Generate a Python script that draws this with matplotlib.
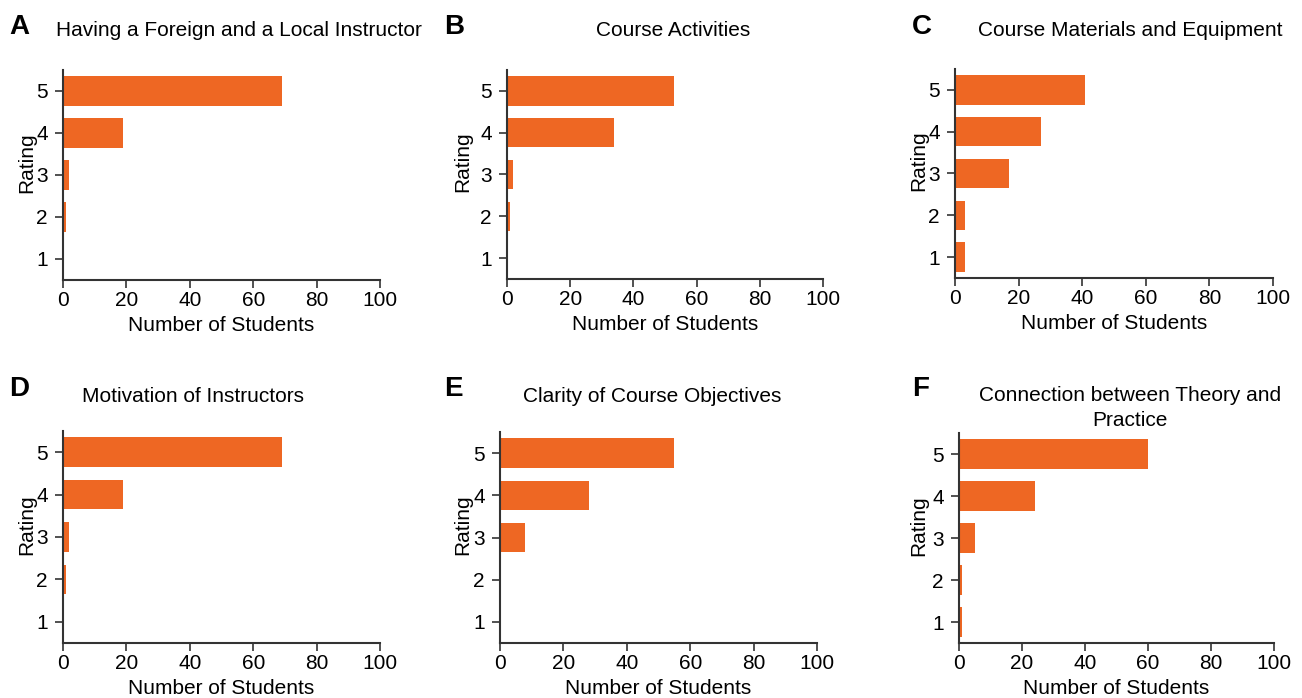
import numpy as np
import matplotlib.pyplot as plt

plt.rcParams['font.family'] = ['Liberation Sans', 'DejaVu Sans']

# Survey counts per rating (1..5) for each course aspect
ratings = [1, 2, 3, 4, 5]
foreign_local = [0, 1, 2, 19, 69]
activities = [0, 1, 2, 34, 53]
materials = [3, 3, 17, 27, 41]
motivation = [0, 1, 2, 19, 69]
objectives = [0, 0, 8, 28, 55]
theory_practice = [1, 1, 5, 24, 60]

letters = ['A', 'B', 'C', 'D', 'E', 'F']
titles = ['Having a Foreign and a Local Instructor', 'Course Activities',
          'Course Materials and Equipment', 'Motivation of Instructors',
          'Clarity of Course Objectives', 'Connection between Theory and\nPractice']
series = [foreign_local, activities, materials, motivation, objectives, theory_practice]

W, H = 1302, 698
fig = plt.figure(figsize=(W / 100, H / 100), dpi=100)

# axes boxes in pixels: left, right, top, bottom
boxes = [(63, 380, 70, 280), (507, 823, 70, 279), (955, 1273, 69, 278),
         (63, 380, 431, 643), (500, 817, 432, 643), (959, 1274, 433, 643)]
title_pos = [(239, 30), (673, 30), (1130, 30), (193, 396), (652, 396), (1130, 408)]
letter_pos = [(9, 27), (444, 27), (912, 27), (9, 389), (444, 389), (912, 389)]
ylab_x = [36, 472, 928, 36, 472, 928]

color = '#EE6723'
fs = 15
for i, vals in enumerate(series):
    l, r, t, b = boxes[i]
    ax = fig.add_axes([l / W, (H - b) / H, (r - l) / W, (b - t) / H])
    ax.barh(ratings, vals, height=0.7, color=color)
    ax.set_xlim(0, 100)
    ax.set_ylim(0.5, 5.5)
    ax.set_xticks([0, 20, 40, 60, 80, 100])
    ax.set_yticks(ratings)
    for s in ['top', 'right']:
        ax.spines[s].set_visible(False)
    for s in ['left', 'bottom']:
        ax.spines[s].set_linewidth(1.5)
        ax.spines[s].set_color('#333333')
    ax.tick_params(labelsize=fs, length=6, width=1.2, color='#333333')
    ax.tick_params(axis='x', pad=2)
    ax.tick_params(axis='y', pad=5)
    ax.set_xlabel('Number of Students', fontsize=fs, labelpad=4)
    ax.set_ylabel('Rating', fontsize=fs)
    ax.yaxis.set_label_coords((ylab_x[i] - l) / (r - l), 0.56)

    tx, ty = title_pos[i]
    fig.text(tx / W, 1 - ty / H, titles[i], ha='center', va='center',
             fontsize=fs, linespacing=1.35)
    lx, ly = letter_pos[i]
    fig.text(lx / W, 1 - ly / H, letters[i], ha='left', va='center',
             fontsize=20, fontweight='bold')

fig.savefig('out.png', dpi=100)
